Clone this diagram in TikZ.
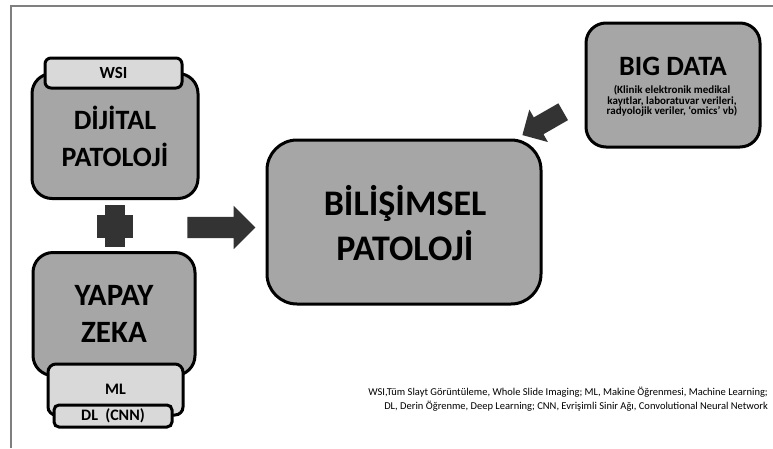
\documentclass[tikz,border=0pt]{standalone}
\usepackage{fontspec}
\setmainfont{Carlito}
\usetikzlibrary{shapes.arrows}
\definecolor{boxgray}{HTML}{A6A6A6}
\definecolor{tabgray}{HTML}{D9D9D9}
\definecolor{darkarrow}{HTML}{333333}
\definecolor{framegray}{HTML}{7F7F7F}
\begin{document}
\begin{tikzpicture}[x=1pt,y=-1pt,
  box/.style={draw=black, line width=3pt, fill=boxgray, rounded corners=20pt, inner sep=0pt, align=center, font=\bfseries},
  tab/.style={draw=black, line width=3pt, fill=tabgray, rounded corners=6pt, inner sep=0pt, align=center, font=\bfseries},
  blockarrow/.style={single arrow, fill=darkarrow, draw=none, inner sep=0pt, text depth=0pt},
  plusbar/.style={fill=darkarrow, draw=none, inner sep=0pt},
]
\useasboundingbox (0,0) rectangle (773,448);
\draw[framegray, line width=2pt] (11,448) -- (11,6) -- (773,6);

% Dijital patoloji
\node[box, minimum width=166pt, minimum height=125pt, font=\bfseries\fontsize{28pt}{37pt}\selectfont] (dijital) at (115,136) {DİJİTAL\\PATOLOJİ};
\node[tab, minimum width=137pt, minimum height=30pt, font=\bfseries\fontsize{17pt}{20pt}\selectfont] (wsi) at (113.5,73) {WSI};

% plus
\node[plusbar, minimum width=36pt, minimum height=23pt] (plush) at (115,226.5) {};
\node[plusbar, minimum width=20pt, minimum height=42pt] (plusv) at (115,226) {};

% Yapay zeka
\node[box, minimum width=162pt, minimum height=123pt, font=\bfseries\fontsize{31pt}{37pt}\selectfont] (yapay) at (114,314) {YAPAY\\ZEKA};
\node[tab, rounded corners=8pt, minimum width=135pt, minimum height=51pt, font=\bfseries\fontsize{16pt}{18pt}\selectfont] (ml) at (115.5,389.5) {ML};
\node[tab, rounded corners=5pt, minimum width=118pt, minimum height=22pt, font=\bfseries\fontsize{16pt}{18pt}\selectfont] (dl) at (113,416) {DL\ \ (CNN)};

% arrow to Bilisimsel
\node[blockarrow, text height=21pt, minimum height=68pt, single arrow head extend=11pt] (arr1) at (216,227.5) {};

% Bilisimsel patoloji
\node[box, rounded corners=30pt, minimum width=274pt, minimum height=164pt] (bilisim) at (404,222) {};
\node[font=\bfseries\fontsize{36pt}{45pt}\selectfont, align=center, inner sep=0pt] (bilt) at (405,223) {BİLİŞİMSEL\\PATOLOJİ};

% Big data
\node[box, minimum width=174pt, minimum height=124pt] (big) at (673,85) {};
\node[font=\bfseries\fontsize{28pt}{30pt}\selectfont, inner sep=0pt] (bigt) at (673,66) {BIG DATA};
\node[font=\bfseries\fontsize{11pt}{10.5pt}\selectfont, align=center, inner sep=0pt] (bigs) at (672,101) {(Klinik elektronik medikal\\kayıtlar, laboratuvar verileri,\\radyolojik veriler, ‘omics’ vb)};

% diagonal arrow
\node[blockarrow, text height=19pt, minimum height=47pt, single arrow head extend=9pt, rotate=209.8] (arr2) at (547,121) {};

% footnote
\node[anchor=east, align=right, inner sep=0pt, font=\fontsize{10.5pt}{14pt}\selectfont] (note) at (768,399) {WSI,Tüm Slayt Görüntüleme, Whole Slide Imaging; ML, Makine Öğrenmesi, Machine Learning;\\DL, Derin Öğrenme, Deep Learning; CNN, Evrişimli Sinir Ağı, Convolutional Neural Network};
\end{tikzpicture}
\end{document}
